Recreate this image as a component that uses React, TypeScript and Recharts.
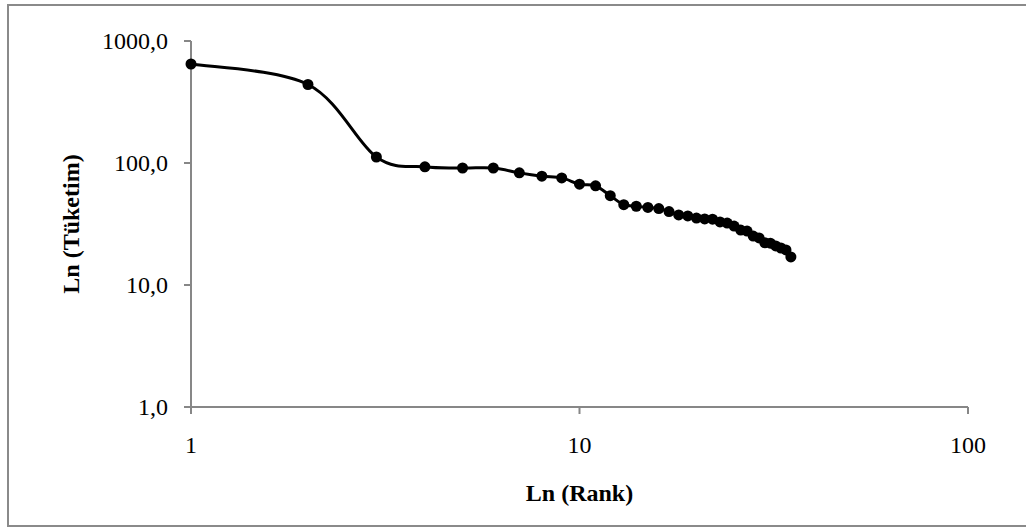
import { ScatterChart, Scatter, XAxis, YAxis, Label } from "recharts";

// rank vs consumption, log-log
const ranks = [
  1, 2, 3, 4, 5, 6, 7, 8, 9, 10, 11, 12, 13, 14, 15, 16, 17, 18, 19, 20, 21,
  22, 23, 24, 25, 26, 27, 28, 29, 30, 31, 32, 33, 34, 35,
];
const consumption = [
  648, 440, 112, 93, 91, 91, 83, 78, 75.5, 67, 65, 54, 45.5, 44.2, 43.2, 42.3,
  40, 37.5, 36.8, 35.4, 34.8, 34.6, 32.9, 32.2, 30.4, 28.2, 27.7, 25.2, 24.3,
  22.2, 22, 20.9, 20.1, 19.4, 17,
];
const xTicks = [1, 10, 100];
const yTicks = [1, 10, 100, 1000];

const data = ranks.map((r, i) => ({ rank: r, value: consumption[i] }));

const FONT = '"Liberation Serif", "Times New Roman", serif';
const AXIS = "#878787";

// Catmull-Rom style smoothing, like a spreadsheet "smoothed line"
function smoothCurve(context: any) {
  let pts: [number, number][] = [];
  return {
    areaStart() {},
    areaEnd() {},
    lineStart() {
      pts = [];
    },
    lineEnd() {
      if (!pts.length) return;
      context.moveTo(pts[0][0], pts[0][1]);
      const t = 1 / 6;
      for (let i = 0; i < pts.length - 1; i++) {
        const p0 = pts[Math.max(i - 1, 0)];
        const p1 = pts[i];
        const p2 = pts[i + 1];
        const p3 = pts[Math.min(i + 2, pts.length - 1)];
        context.bezierCurveTo(
          p1[0] + (p2[0] - p0[0]) * t,
          p1[1] + (p2[1] - p0[1]) * t,
          p2[0] - (p3[0] - p1[0]) * t,
          p2[1] - (p3[1] - p1[1]) * t,
          p2[0],
          p2[1],
        );
      }
    },
    point(x: number, y: number) {
      pts.push([+x, +y]);
    },
  };
}

const XTick = (p: any) => (
  <text
    x={p.x}
    y={p.y + 29}
    textAnchor="middle"
    dominantBaseline="central"
    fontFamily={FONT}
    fontSize={24}
    fill="#000"
  >
    {p.payload.value}
  </text>
);

const YTick = (p: any) => (
  <text
    x={p.x}
    y={p.y}
    textAnchor="end"
    dominantBaseline="central"
    fontFamily={FONT}
    fontSize={24}
    fill="#000"
  >
    {p.payload.value.toFixed(1).replace(".", ",")}
  </text>
);

const Dot = (p: any) => <circle cx={p.cx} cy={p.cy} r={5.5} fill="#000" />;

export default function App() {
  return (
    <div style={{ position: "absolute", left: 0, top: 0, width: 1026, height: 527 }}>
      <div
        style={{
          position: "absolute",
          left: 7,
          top: 4,
          width: 1040,
          height: 523,
          border: "2px solid #8a8a8a",
          boxSizing: "border-box",
        }}
      />
      <div style={{ position: "absolute", left: 0, top: 0 }}>
        <ScatterChart
          width={1026}
          height={527}
          margin={{ top: 41, right: 58, bottom: 0, left: 0 }}
        >
          <XAxis
            dataKey="rank"
            type="number"
            scale="log"
            domain={[1, 100]}
            ticks={xTicks}
            height={120}
            stroke={AXIS}
            strokeWidth={2}
            tickSize={7}
            tick={<XTick />}
          >
            <Label
              content={(p: any) => (
                <text
                  x={p.viewBox.x + p.viewBox.width / 2}
                  y={p.viewBox.y + 86}
                  textAnchor="middle"
                  dominantBaseline="central"
                  fontFamily={FONT}
                  fontSize={24}
                  fontWeight="bold"
                  fill="#000"
                >
                  Ln (Rank)
                </text>
              )}
            />
          </XAxis>
          <YAxis
            dataKey="value"
            type="number"
            scale="log"
            domain={[1, 1000]}
            ticks={yTicks}
            width={191}
            stroke={AXIS}
            strokeWidth={2}
            tickSize={7}
            tickMargin={16}
            tick={<YTick />}
          >
            <Label
              content={(p: any) => {
                const cx = 71;
                const cy = p.viewBox.y + p.viewBox.height / 2;
                return (
                  <text
                    x={cx}
                    y={cy}
                    transform={`rotate(-90 ${cx} ${cy})`}
                    textAnchor="middle"
                    dominantBaseline="central"
                    fontFamily={FONT}
                    fontSize={24}
                    fontWeight="bold"
                    fill="#000"
                  >
                    Ln (Tüketim)
                  </text>
                );
              }}
            />
          </YAxis>
          <Scatter
            data={data}
            fill="#000"
            line={{ stroke: "#000", strokeWidth: 3 }}
            lineJointType={smoothCurve as any}
            shape={<Dot />}
            isAnimationActive={false}
          />
        </ScatterChart>
      </div>
    </div>
  );
}
